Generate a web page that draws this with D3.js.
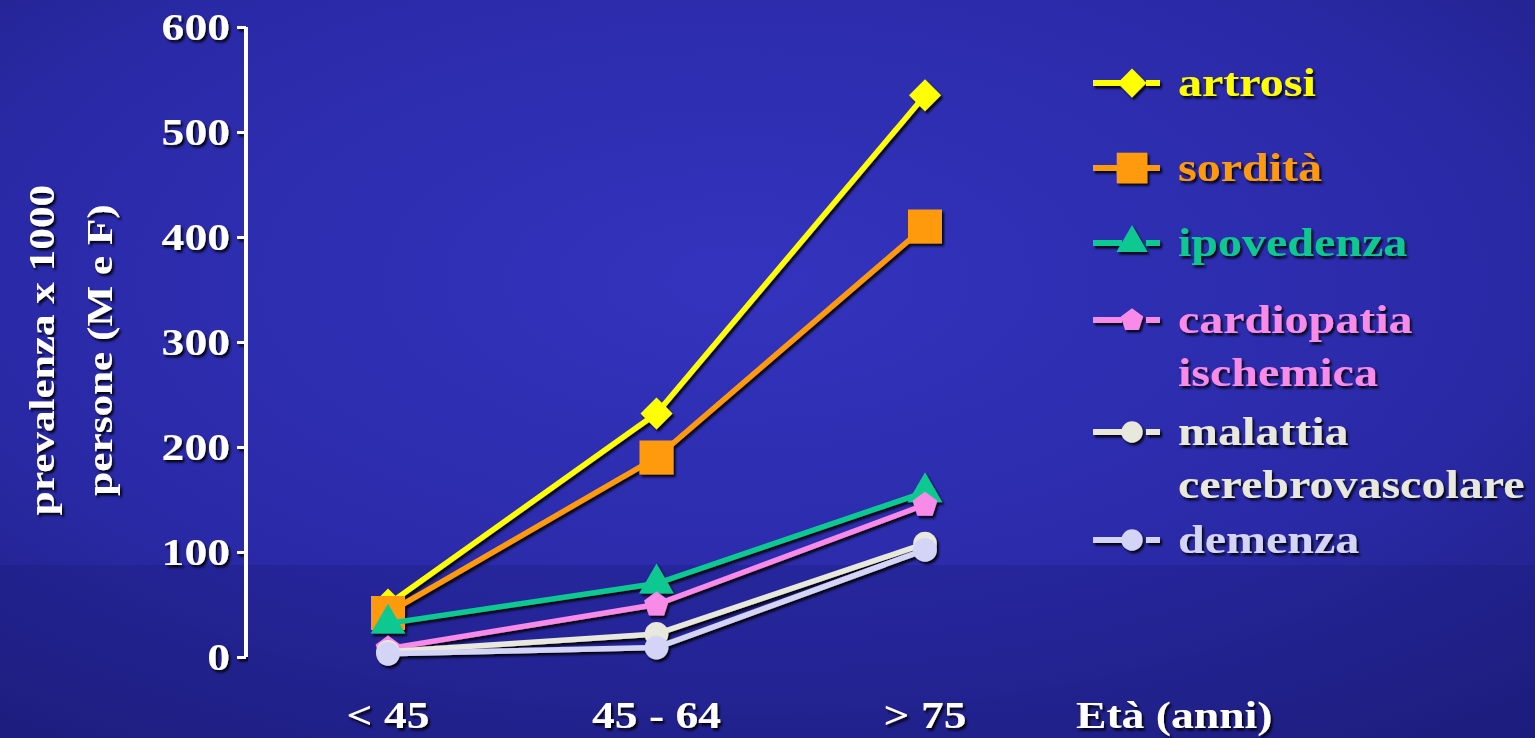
<!DOCTYPE html>
<html><head><meta charset="utf-8">
<script src="https://cdnjs.cloudflare.com/ajax/libs/d3/7.8.5/d3.min.js"></script>
<style>html,body{margin:0;padding:0;overflow:hidden;background:#23239a}</style>
</head><body><svg id="c" width="1535" height="738"></svg>
<script>
const categories = ["< 45", "45 - 64", "> 75"];
const yTicks = [0, 100, 200, 300, 400, 500, 600];
const seriesNames = ["artrosi", "sordità", "ipovedenza", "cardiopatia ischemica", "malattia cerebrovascolare", "demenza"];
const legendLines = [["artrosi"], ["sordità"], ["ipovedenza"], ["cardiopatia", "ischemica"], ["malattia", "cerebrovascolare"], ["demenza"]];
const artrosi = [50, 232, 535];
const sordita = [42, 190, 410];
const ipovedenza = [32, 70, 157];
const cardiopatia = [8, 50, 145];
const malattia = [5, 22, 108];
const demenza = [3, 9, 102];
const yTitle = ["prevalenza x 1000", "persone (M e F)"];
const xTitle = "Età (anni)";

const values = [artrosi, sordita, ipovedenza, cardiopatia, malattia, demenza];
const colors = ["#ffff00", "#ff9a10", "#10c890", "#f88ae8", "#e8e8dc", "#d4d4f6"];
const shapes = ["diamond", "square", "triangle", "pentagon", "circle", "circle"];

const svg = d3.select("#c");
const defs = svg.append("defs");
const bg = defs.append("radialGradient").attr("id","bg").attr("cx","48%").attr("cy","38%").attr("r","80%");
bg.append("stop").attr("offset","0%").attr("stop-color","#3333be");
bg.append("stop").attr("offset","60%").attr("stop-color","#2a2aa8");
bg.append("stop").attr("offset","100%").attr("stop-color","#1e1e80");
const f = defs.append("filter").attr("id","sh").attr("x","-20%").attr("y","-20%").attr("width","140%").attr("height","140%");
f.append("feDropShadow").attr("dx",2).attr("dy",2.5).attr("stdDeviation",0.8).attr("flood-color","#000").attr("flood-opacity",0.9);

svg.append("rect").attr("width",1535).attr("height",738).attr("fill","url(#bg)");
svg.append("rect").attr("x",0).attr("y",565).attr("width",1535).attr("height",173).attr("fill","#1a1a78").attr("opacity",0.3);

const y = d3.scaleLinear().domain([0,600]).range([657,27]);
const x = d3.scalePoint().domain(categories).range([388,925]);

const font = "'Liberation Serif','Times New Roman',serif";
const SX = 1.2;

// axes
const yAxis = d3.axisLeft(y).tickValues(yTicks).tickSize(9).tickFormat("");
const gy = svg.append("g").attr("transform","translate(246,0)").attr("filter","url(#sh)").call(yAxis);
gy.select(".domain").attr("stroke","#fff").attr("stroke-width",4).attr("d","M0,27V657");
gy.selectAll(".tick line").attr("stroke","#fff").attr("stroke-width",3);
const xAxisG = svg.append("g").attr("filter","url(#sh)");
xAxisG.append("line").attr("x1",246).attr("x2",1058).attr("y1",y(0)).attr("y2",y(0)).attr("stroke","#fff").attr("stroke-width",4);

const txt = svg.append("g").attr("filter","url(#sh)").attr("font-family",font).attr("font-weight","bold").attr("fill","#fff");
yTicks.forEach(t => {
  txt.append("text").attr("transform",`translate(230,${y(t)+13}) scale(${SX},1)`).attr("text-anchor","end").attr("font-size",38).text(t);
});
categories.forEach(c => {
  txt.append("text").attr("transform",`translate(${x(c)},${728}) scale(${SX},1)`).attr("text-anchor","middle").attr("font-size",38).text(c);
});
txt.append("text").attr("transform",`translate(1076,728) scale(${SX},1)`).attr("font-size",38).text(xTitle);
yTitle.forEach((t,i) => {
  txt.append("text").attr("transform",`translate(${54+i*58},${350}) rotate(-90) scale(${SX},1)`).attr("text-anchor","middle").attr("font-size",36).text(t);
});

function markerPath(shape){
  if(shape==="diamond") return "M0,-16L16,0L0,16L-16,0Z";
  if(shape==="square") return "M-17,-17H17V17H-17Z";
  if(shape==="triangle") return d3.symbol(d3.symbolTriangle, 520)();
  if(shape==="pentagon") return "M0,-13L12.4,-4L7.6,11L-7.6,11L-12.4,-4Z";
  return d3.symbol(d3.symbolCircle, 440)();
}

const line = d3.line().x((d,i)=>x(categories[i])).y(d=>y(d));
const plot = svg.append("g").attr("filter","url(#sh)");
values.forEach((vals,si)=>{
  const g = plot.append("g");
  g.append("path").attr("d",line(vals)).attr("fill","none").attr("stroke",colors[si]).attr("stroke-width",5.5).attr("stroke-linejoin","round");
  vals.forEach((v,i)=>{
    g.append("path").attr("d",markerPath(shapes[si])).attr("transform",`translate(${x(categories[i])},${y(v)})`).attr("fill",colors[si]);
  });
});

// legend
const legendY = [83, 168, 243, 320, 432, 540];
const lg = svg.append("g").attr("filter","url(#sh)");
legendLines.forEach((lines,si)=>{
  const ly = legendY[si];
  lg.append("line").attr("x1",1093).attr("x2",1122).attr("y1",ly).attr("y2",ly).attr("stroke",colors[si]).attr("stroke-width",6);
  lg.append("line").attr("x1",1146).attr("x2",1160).attr("y1",ly).attr("y2",ly).attr("stroke",colors[si]).attr("stroke-width",6);
  lg.append("path").attr("d",markerPath(shapes[si])).attr("transform",`translate(1132,${ly}) scale(0.9)`).attr("fill",colors[si]);
  lines.forEach((t,k)=>{
    lg.append("text").attr("transform",`translate(1178,${ly+13+k*53}) scale(${SX},1)`)
      .attr("font-family",font).attr("font-weight","bold").attr("font-size",40).attr("fill",colors[si]).text(t);
  });
});
</script></body></html>
